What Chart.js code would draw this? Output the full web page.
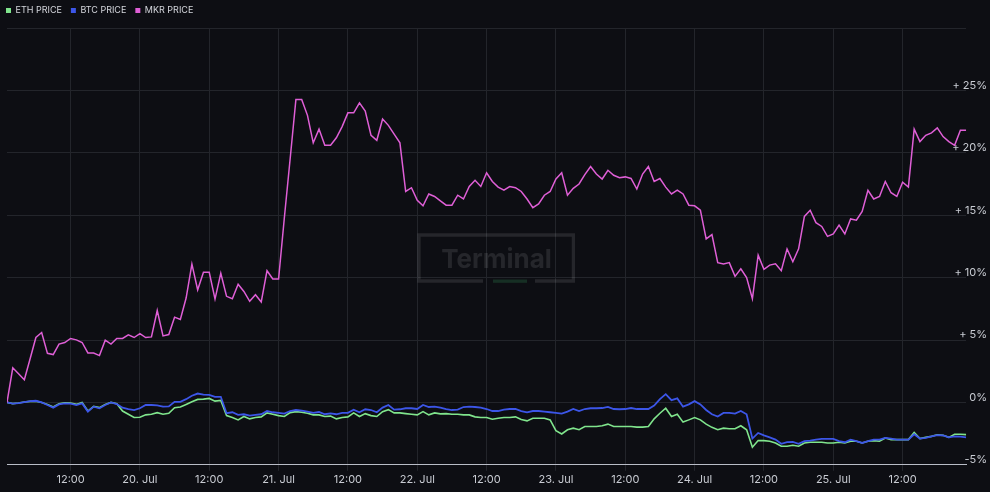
<!DOCTYPE html>
<html><head><meta charset="utf-8">
<script src="https://cdn.jsdelivr.net/npm/chart.js@4.4.1/dist/chart.umd.min.js"></script>
<style>html,body{margin:0;padding:0;background:#0d0e13;} #wrap{width:990px;height:492px;position:relative;}</style>
</head><body><div id="wrap"><canvas id="c"></canvas></div>
<script>
// Hourly samples, hour 0 = 19 Jul 01:00, hour 166 = 25 Jul 23:00
const hours = Array.from({length: 167}, (_, i) => i);

const ethPrice = [
  0, -0.1, -0.05, 0.03, 0.08, 0.1, 0, -0.16, -0.37, -0.1,
  -0.03, -0.05, -0.16, 0, -0.69, -0.32, -0.42, -0.16, 0, -0.1,
  -0.69, -0.95, -1.21, -1.19, -1.0, -0.95, -0.82, -0.95, -0.87, -0.42,
  -0.37, -0.16, 0.05, 0.24, 0.26, 0.32, 0.1, 0.16, -1.06, -1.21,
  -1.4, -1.13, -1.32, -1.21, -1.16, -0.84, -0.95, -1.06, -1.13, -0.82,
  -0.74, -0.79, -0.87, -1.0, -1.0, -1.13, -1.1, -1.32, -1.21, -1.16,
  -0.84, -1.13, -0.9, -1.06, -1.13, -0.74, -0.58, -0.84, -0.84, -0.9,
  -0.95, -1.0, -0.74, -1.0, -0.84, -0.92, -0.9, -0.95, -0.95, -1.0,
  -1.0, -1.16, -1.21, -1.21, -1.35, -1.27, -1.21, -1.21, -1.16, -1.37,
  -1.48, -1.27, -1.27, -1.27, -1.4, -2.27, -2.53, -2.19, -2.06, -2.19,
  -1.93, -1.93, -1.93, -1.87, -1.74, -1.93, -1.93, -1.93, -1.93, -1.98,
  -1.98, -1.93, -1.32, -0.87, -0.47, -1.13, -0.95, -1.58, -1.4, -1.21,
  -1.4, -1.74, -2.0, -2.19, -2.06, -2.11, -2.11, -1.87, -2.19, -3.59,
  -3.06, -3.06, -3.11, -3.25, -3.51, -3.51, -3.43, -3.51, -3.25, -3.19,
  -3.19, -3.19, -3.25, -3.25, -3.19, -3.25, -3.11, -3.11, -3.25, -3.11,
  -3.06, -3.11, -2.85, -2.98, -2.98, -2.98, -2.98, -2.4, -2.9, -2.8,
  -2.72, -2.6, -2.64, -2.8, -2.55, -2.55, -2.58
];

const btcPrice = [
  0, -0.1, -0.05, 0.03, 0.1, 0.13, 0, -0.21, -0.42, -0.16,
  -0.08, -0.1, -0.21, -0.08, -0.74, -0.34, -0.47, -0.21, 0, -0.13,
  -0.42, -0.53, -0.61, -0.47, -0.21, -0.21, -0.24, -0.34, -0.32, 0.05,
  0.05, 0.26, 0.53, 0.71, 0.63, 0.61, 0.45, 0.45, -0.87, -0.79,
  -1.0, -0.95, -1.06, -1.0, -0.95, -0.69, -0.79, -0.84, -0.9, -0.69,
  -0.61, -0.66, -0.74, -0.84, -0.77, -0.95, -0.88, -0.95, -0.84, -0.84,
  -0.58, -0.79, -0.55, -0.61, -0.79, -0.42, -0.21, -0.58, -0.55, -0.47,
  -0.47, -0.53, -0.21, -0.37, -0.34, -0.42, -0.53, -0.61, -0.58, -0.37,
  -0.34, -0.37, -0.42, -0.53, -0.69, -0.69, -0.58, -0.53, -0.53, -0.69,
  -0.79, -0.69, -0.69, -0.74, -0.79, -0.84, -0.9, -0.74, -0.53, -0.69,
  -0.53, -0.47, -0.47, -0.45, -0.36, -0.53, -0.55, -0.53, -0.45, -0.53,
  -0.53, -0.53, -0.26, 0.26, 0.66, 0.18, 0.32, -0.34, -0.16, 0.1,
  -0.16, -0.61, -0.95, -1.13, -0.84, -0.84, -0.9, -0.69, -0.95, -2.9,
  -2.45, -2.64, -2.8, -2.98, -3.32, -3.19, -3.17, -3.32, -3.11, -3.06,
  -2.98, -2.93, -2.93, -2.93, -3.11, -3.19, -2.98, -3.11, -3.25, -3.11,
  -2.98, -2.98, -2.85, -2.9, -2.98, -2.98, -2.98, -2.55, -2.9, -2.85,
  -2.72, -2.62, -2.64, -2.8, -2.72, -2.75, -2.8
];

const mkrPrice = [
  0, 2.77, 2.3, 1.82, 3.5, 5.2, 5.6, 3.93, 3.83, 4.67,
  4.8, 5.12, 5.01, 4.8, 3.96, 3.96, 3.75, 4.99, 4.67, 5.12,
  5.12, 5.41, 5.2, 5.51, 5.2, 5.25, 7.36, 5.33, 5.44, 6.83,
  6.65, 8.36, 11.08, 9.02, 10.42, 10.42, 8.28, 10.34, 8.5, 8.31,
  9.47, 8.89, 8.1, 8.63, 8.05, 10.55, 9.89, 9.89, 14.8, 19.5,
  24.27, 24.27, 23.0, 20.8, 21.9, 20.6, 20.6, 21.2, 22.1, 23.2,
  23.2, 24.0, 23.35, 21.4, 21.0, 22.7, 22.2, 21.5, 20.8, 16.9,
  17.2, 16.2, 15.75, 16.7, 16.5, 16.15, 15.8, 15.8, 16.6, 16.3,
  17.3, 17.8, 17.3, 18.4, 17.7, 17.25, 17.0, 17.3, 17.2, 16.9,
  16.3, 15.6, 15.9, 16.6, 16.9, 17.9, 18.4, 16.6, 17.15, 17.5,
  18.25, 18.9, 18.3, 17.9, 18.6, 18.2, 18.0, 18.07, 17.94, 17.1,
  18.3, 18.9, 17.7, 17.94, 17.25, 16.7, 17.0, 16.7, 15.8, 15.75,
  15.4, 13.1, 13.45, 11.2, 11.1, 11.2, 10.1, 10.7, 10.0, 8.3,
  11.8, 10.66, 11.0, 11.1, 10.55, 12.3, 11.27, 12.3, 14.9, 15.4,
  14.4, 14.1, 13.3, 13.5, 14.2, 13.5, 14.7, 14.6, 15.3, 17.0,
  16.3, 16.5, 17.7, 16.8, 16.5, 17.65, 17.26, 21.9, 20.9, 21.4,
  21.6, 22.0, 21.3, 20.9, 20.6, 21.8, 21.8
];

const xTickHours = [11, 23, 35, 47, 59, 71, 83, 95, 107, 119, 131, 143, 155];
const xTickLabels = ['12:00', '20. Jul', '12:00', '21. Jul', '12:00', '22. Jul', '12:00', '23. Jul', '12:00', '24. Jul', '12:00', '25. Jul', '12:00'];
const yTickValues = [-5, 0, 5, 10, 15, 20, 25, 30];
const yTickLabels = ['-5%', '0%', '+ 5%', '+ 10%', '+ 15%', '+ 20%', '+ 25%', ''];

const BG = '#0d0e13';
const GRID = '#23252b';
const TXT = '#c9ccd3';

const bgPlugin = {
  id: 'bg',
  beforeDraw(chart) {
    const c = chart.ctx; c.save(); c.fillStyle = BG; c.fillRect(0, 0, chart.width, chart.height); c.restore();
  }
};

const legendPos = {
  id: 'legendPos',
  beforeInit(chart) {
    if (chart.legend) chart.legend.afterFit = function () { this.height = 24.5; };
  },
  afterLayout(chart) {
    const lg = chart.legend;
    if (lg) { lg.left -= 3; lg.top -= 3; }
  }
};

const watermark = {
  id: 'watermark',
  beforeDatasetsDraw(chart) {
    const c = chart.ctx;
    c.save();
    c.strokeStyle = 'rgba(255,255,255,0.10)';
    c.lineWidth = 3.3;
    const L = 419, R = 573.4, T = 235, B = 281;
    c.beginPath();
    c.moveTo(483, B); c.lineTo(L, B); c.lineTo(L, T); c.lineTo(R, T); c.lineTo(R, B); c.lineTo(535, B);
    c.stroke();
    c.fillStyle = 'rgba(40,110,70,0.35)';
    c.fillRect(493, 279.5, 34, 3.3);
    c.fillStyle = 'rgba(255,255,255,0.10)';
    c.font = 'bold 26px Inter';
    c.textAlign = 'center';
    c.textBaseline = 'alphabetic';
    c.fillText('Terminal', 496.5, 267.5);
    c.restore();
  }
};

const font = {family: 'Inter', size: 11};

new Chart(document.getElementById('c'), {
  type: 'line',
  data: {
    labels: hours,
    datasets: [
      {label: 'ETH PRICE', data: ethPrice, borderColor: '#80e58d', backgroundColor: '#80e58d', borderWidth: 1.6, order: 2},
      {label: 'BTC PRICE', data: btcPrice, borderColor: '#3c56e8', backgroundColor: '#3c56e8', borderWidth: 1.8, order: 1},
      {label: 'MKR PRICE', data: mkrPrice, borderColor: '#df5fd6', backgroundColor: '#df5fd6', borderWidth: 1.5, order: 0}
    ]
  },
  options: {
    responsive: true,
    maintainAspectRatio: false,
    animation: false,
    devicePixelRatio: 1,
    layout: {padding: {left: 0, right: 3, top: 0, bottom: 4}},
    elements: {point: {radius: 0, hoverRadius: 0}, line: {tension: 0, fill: false}},
    plugins: {
      tooltip: {enabled: false},
      legend: {
        position: 'top', align: 'start',
        labels: {
          boxWidth: 5, boxHeight: 5, padding: 9, color: '#d4d6dc',
          font: {family: 'Inter', size: 9},
          generateLabels(chart) {
            const items = Chart.defaults.plugins.legend.labels.generateLabels(chart);
            items.forEach(i => { i.lineWidth = 0; i.fillStyle = i.strokeStyle; });
            return items.sort((a, b) => a.datasetIndex - b.datasetIndex);
          }
        }
      }
    },
    scales: {
      x: {
        type: 'linear', min: 0, max: 166,
        afterBuildTicks(s) { s.ticks = xTickHours.map(v => ({value: v})); },
        afterFit(s) { s.paddingLeft = 7; },
        ticks: {
          autoSkip: false, maxRotation: 0, color: TXT, font: font, padding: 2,
          callback: (v) => { const i = xTickHours.indexOf(v); return i >= 0 ? xTickLabels[i] : ''; }
        },
        grid: {color: GRID, tickColor: GRID, tickLength: 6, drawTicks: true},
        border: {display: true, color: '#b9bdc7', width: 1}
      },
      y: {
        position: 'right', min: -5, max: 30,
        afterBuildTicks(s) { s.ticks = yTickValues.map(v => ({value: v})); },
        afterFit(s) { s._computeLabelArea = () => undefined; },
        ticks: {
          color: TXT, font: font, padding: -7, crossAlign: 'far', labelOffset: -5,
          callback: (v) => { const i = yTickValues.indexOf(v); return i >= 0 ? yTickLabels[i] : ''; }
        },
        grid: {color: (ctx) => ctx.tick && ctx.tick.value === -5 ? 'rgba(0,0,0,0)' : GRID, drawTicks: false},
        border: {display: false}
      }
    }
  },
  plugins: [bgPlugin, legendPos, watermark]
});
</script></body></html>
